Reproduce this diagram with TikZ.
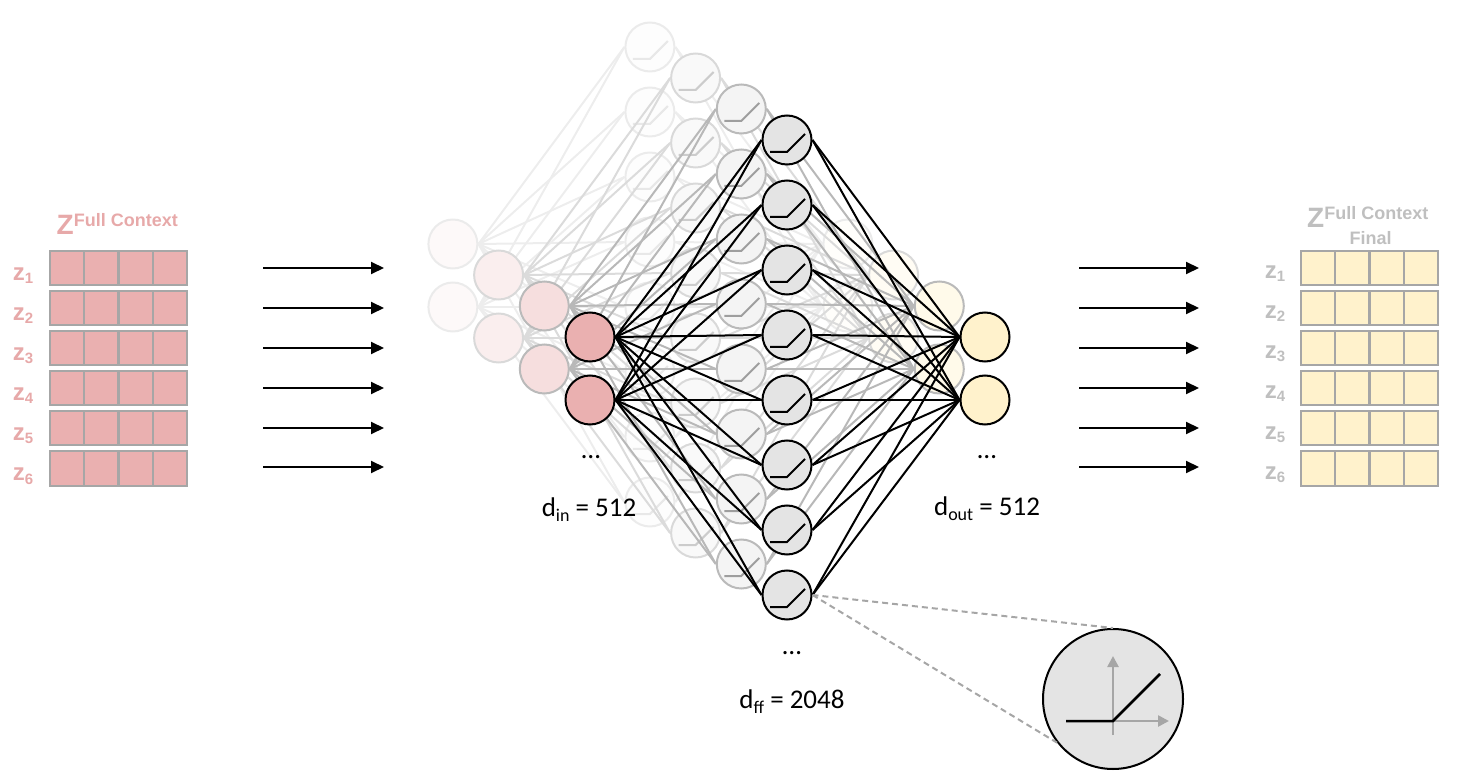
\documentclass[tikz,border=0pt]{standalone}
\usepackage{fontspec}
\setmainfont{Carlito}
\newfontfamily\arialf{Liberation Sans}
\usetikzlibrary{arrows.meta}
\definecolor{pinkc}{HTML}{EAB0B0}
\definecolor{pinktxt}{HTML}{E7A9A9}
\definecolor{yelc}{HTML}{FFF2CC}
\definecolor{gridc}{HTML}{A6A6A6}
\definecolor{hidc}{HTML}{E4E4E4}
\definecolor{greytxt}{HTML}{BFBFBF}
\begin{document}
\begin{tikzpicture}[x=1pt,y=-1pt,
  edge/.style={line width=2pt},
  nrn/.style={circle, minimum size=49pt, inner sep=0pt, line width=2pt},
  arr/.style={line width=2pt, -{Triangle[length=13pt,width=12pt]}},
  cell/.style={rectangle, minimum width=34pt, minimum height=34pt, inner sep=0pt, draw=gridc, line width=2pt},
  zlab/.style={anchor=base, inner sep=0pt, font=\arialf\bfseries\fontsize{24}{24}\selectfont},
  dlab/.style={anchor=base, inner sep=0pt, font=\fontsize{27}{27}\selectfont},
  dots/.style={anchor=base, inner sep=0pt, font=\fontsize{27}{27}\selectfont},
  gaxis/.style={line width=2.5pt, draw=gridc, -{Triangle[length=11pt,width=11pt]}},
  zoomline/.style={line width=2pt, draw=gridc, dash pattern=on 6pt off 4pt}]
\useasboundingbox (0,0) rectangle (1457,783);

% ---------- network, back layers first ----------
\foreach \L/\ec/\bc/\fr/\gc in {3/7/8/8/9, 2/14/15/22/20, 1/28/27/42/38, 0/100/100/100/100} {
  \begin{scope}[shift={(-45.7*\L,-31*\L)}]
    \foreach \k in {1,...,8} {
      \node[nrn, draw=black!\bc, fill=hidc!\fr] (h\L-\k) at (787,{140+65*(\k-1)}) {};
      \draw[line width=2pt, draw=black!\gc] ([shift={(-17,12)}]h\L-\k.center) -- ++(17,0) -- ++(18,-18);
    }
    \node[nrn, draw=black!\bc, fill=pinkc!\fr] (i\L-1) at (590,337) {};
    \node[nrn, draw=black!\bc, fill=pinkc!\fr] (i\L-2) at (590,400) {};
    \node[nrn, draw=black!\bc, fill=yelc!\fr] (o\L-1) at (985,337) {};
    \node[nrn, draw=black!\bc, fill=yelc!\fr] (o\L-2) at (985,400) {};
    \foreach \a in {1,2} {
      \foreach \k in {1,...,8} {
        \draw[edge, draw=black!\ec] (i\L-\a.east) -- (h\L-\k.west);
        \draw[edge, draw=black!\ec] (h\L-\k.east) -- (o\L-\a.west);
      }
    }
  \end{scope}
}

% ---------- labels under the network ----------
\node[dots] (din-dots) at (591,459) {…};
\node[dots] (dff-dots) at (792,654) {…};
\node[dots] (dout-dots) at (987,459) {…};
\node[dlab] (din) at (589,516.5) {d\raisebox{-5pt}{\fontsize{18}{18}\selectfont in} = 512};
\node[dlab] (dff) at (792,708) {d\raisebox{-5pt}{\fontsize{18}{18}\selectfont ff} = 2048};
\node[dlab] (dout) at (987,515) {d\raisebox{-5pt}{\fontsize{18}{18}\selectfont out} = 512};

% ---------- zoomed ReLU ----------
\node[circle, minimum size=140pt, inner sep=0pt, draw=black, line width=2pt, fill=hidc] (zc) at (1113,699) {};
\draw[zoomline] (h0-8.east) -- (zc.north);
\draw[zoomline] (h0-8.east) -- (zc.218);
\coordinate (vax0) at (1113,735);
\coordinate (vax1) at (1113,656);
\coordinate (hax0) at (1066,721);
\coordinate (hax1) at (1169,721);
\draw[gaxis] (vax0) -- (vax1);
\draw[gaxis] (hax0) -- (hax1);
\coordinate (rk) at (1113,721);
\coordinate (rend) at (1160,674);
\draw[line width=2.5pt] (hax0) -- (rk) -- (rend);

% ---------- arrows ----------
\foreach \y [count=\r] in {268,308,348,388,428,467} {
  \coordinate (la\r) at (263,\y);
  \coordinate (lb\r) at (384,\y);
  \coordinate (ra\r) at (1079,\y);
  \coordinate (rb\r) at (1199,\y);
  \draw[arr] (la\r) -- (lb\r);
  \draw[arr] (ra\r) -- (rb\r);
}

% ---------- matrices ----------
\foreach \r in {1,...,6} {
  \foreach \c in {1,...,4} {
    \node[cell, fill=pinkc] (L\r-\c) at ({49.5+34.5*(\c-0.5)},{268.5+40*(\r-1)}) {};
    \node[cell, fill=yelc] (R\r-\c) at ({1301+34.3*(\c-0.5)},{268.5+40*(\r-1)}) {};
  }
  \node[zlab, text=pinktxt] (lz\r) at (23,{281+40*(\r-1)}) {z\raisebox{-3pt}{\fontsize{15}{15}\selectfont\r}};
  \node[zlab, text=greytxt] (rz\r) at (1275,{279+40*(\r-1)}) {z\raisebox{-3pt}{\fontsize{15}{15}\selectfont\r}};
}

\node[anchor=base west, inner sep=0pt, text=pinktxt, font=\arialf\bfseries] (lZ) at (56.5,235)
  {\fontsize{28}{28}\selectfont Z\raisebox{8.3pt}{\fontsize{18}{18}\selectfont Full Context}};
\node[anchor=base west, inner sep=0pt, text=greytxt, font=\arialf\bfseries] (rZ) at (1307,227.5)
  {\fontsize{28}{28}\selectfont Z\raisebox{7.5pt}{\fontsize{18}{18}\selectfont Full Context}};
\node[anchor=base, inner sep=0pt, text=greytxt, font=\arialf\bfseries\fontsize{18}{18}\selectfont] (rF) at (1370.5,244.5) {Final};
\end{tikzpicture}
\end{document}
